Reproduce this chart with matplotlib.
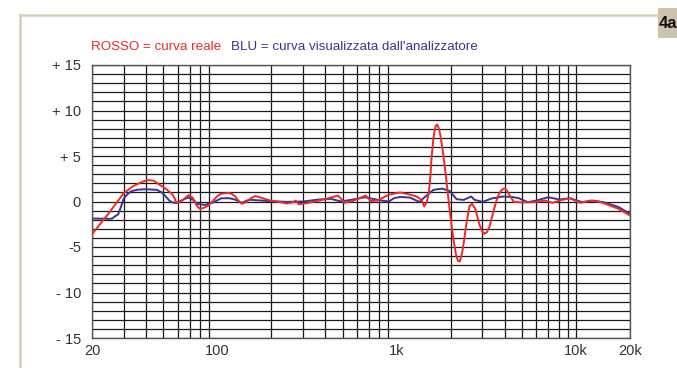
import numpy as np
import matplotlib
matplotlib.use("Agg")
import matplotlib.pyplot as plt
from matplotlib.patches import Rectangle
from matplotlib.lines import Line2D

plt.rcParams['font.family'] = ['Liberation Sans', 'DejaVu Sans']

# measured response (red) - frequency in Hz, level in dB
red_freq = [20, 25, 30, 34, 38, 41, 44, 48, 52, 56, 58, 58.8, 61, 64, 69, 73, 77, 80, 84, 89,
            95, 100, 105, 115, 120, 126, 132, 137, 146, 155, 163, 173, 198, 225, 244, 266, 273,
            284, 316, 358, 406, 470, 490, 511, 567, 671, 716, 779, 905, 1045, 1162, 1291, 1377,
            1423, 1470, 1510, 1540, 1562, 1600, 1630, 1655, 1679, 1705, 1730, 1752, 1800, 1851,
            1910, 1973, 2030, 2086, 2140, 2193, 2250, 2318, 2380, 2438, 2545, 2634, 2747, 2820,
            2890, 2980, 3080, 3180, 3280, 3420, 3575, 3690, 3807, 3920, 4022, 4120, 4226, 4500,
            4930, 5880, 6740, 7390, 8070, 9230, 10550, 12060, 13790, 17220, 20000]
red_db = [-3.6, -1.2, 0.9, 1.7, 2.15, 2.35, 2.3, 1.8, 1.35, 0.8, 0.3, -0.1, -0.05, 0.15, 0.7,
          0.4, -0.5, -0.8, -0.7, -0.45, 0.1, 0.6, 0.85, 0.95, 0.85, 0.55, 0.0, -0.25, -0.05,
          0.4, 0.6, 0.45, 0.1, -0.07, -0.22, -0.07, 0.1, -0.3, -0.18, 0.04, 0.3, 0.65, 0.3,
          -0.15, 0.05, 0.65, 0.05, 0.1, 0.75, 1.0, 0.8, 0.55, 0.18, -0.55, -0.1, 0.9, 2.6, 4.6,
          6.8, 7.9, 8.35, 8.45, 8.2, 7.8, 7.3, 5.8, 4.0, 1.6, -0.84, -2.9, -4.5, -5.8, -6.5,
          -6.6, -5.6, -4.2, -2.65, -0.5, -0.25, -0.84, -1.7, -2.5, -3.2, -3.55, -3.4, -2.85,
          -1.5, -0.1, 0.7, 1.15, 1.4, 1.45, 1.2, 0.8, -0.04, -0.1, -0.07, 0.1, -0.15, 0.1,
          0.36, -0.15, 0.1, -0.07, -0.8, -1.55]

# analyzer reading (blue)
blue_freq = [20, 25.7, 28, 29, 30, 31.5, 33.3, 36, 40, 46, 49, 51.3, 54, 56, 59, 63, 68.8, 73,
             78, 85, 95, 105, 117, 126, 137, 150, 197, 244, 300, 370, 430, 490, 570, 671, 735,
             830, 905, 965, 1045, 1180, 1340, 1460, 1600, 1790, 1970, 2160, 2370, 2600, 2720,
             3020, 3380, 3920, 4400, 4800, 5380, 6000, 7000, 8070, 9230, 10800, 12400, 14200,
             17220, 20000]
blue_db = [-1.87, -1.9, -1.4, -0.6, 0.3, 0.8, 1.15, 1.3, 1.35, 1.28, 1.0, 0.6, 0.1, -0.1,
           -0.18, 0.1, 0.45, 0.2, -0.28, -0.38, -0.1, 0.35, 0.36, 0.2, -0.15, 0.2, 0.04, -0.04,
           0.0, 0.22, 0.29, 0.0, 0.22, 0.47, 0.29, 0.1, 0.0, 0.36, 0.5, 0.44, -0.04, 0.62, 1.27,
           1.42, 1.16, 0.25, 0.18, 0.55, 0.18, -0.04, 0.33, 0.55, 0.5, 0.36, -0.07, 0.1, 0.47,
           0.22, 0.36, -0.07, 0.1, -0.07, -0.6, -1.35]

y_ticks = [15, 10, 5, 0, -5, -10, -15]
y_labels = ['+ 15', '+ 10', '+ 5', '0', '-5', '- 10', '- 15']
x_ticks = [20, 100, 1000, 10000, 20000]
x_labels = ['20', '100', '1k', '10k', '20k']

RED = '#ec2b25'
BLUE = '#3b3296'
TAN = '#d5ccbb'

fig = plt.figure(figsize=(6.77, 3.68), dpi=100)
ax = fig.add_axes([92 / 677, 30 / 368, 538 / 677, 273 / 368])

# log grid: every 1 dB horizontally, 1-2-3..9 per decade vertically
grid_f = [m * d for d in (10, 100, 1000) for m in range(2, 10)] + [10000, 20000]
for f in grid_f:
    if 20 <= f <= 20000:
        ax.axvline(f, color='#1a1a1a', lw=0.9, zorder=1)
for db in range(-15, 16):
    ax.axhline(db, color='#1a1a1a', lw=0.9, zorder=1)

ax.semilogx(red_freq, red_db, color=RED, lw=1.4, zorder=3)
ax.semilogx(blue_freq, blue_db, color=BLUE, lw=1.4, zorder=2)

ax.set_xlim(20, 20000)
ax.set_ylim(-15, 15)
ax.set_xticks(x_ticks)
ax.set_xticklabels(x_labels)
ax.set_xticks([], minor=True)
ax.set_yticks(y_ticks)
ax.set_yticklabels(y_labels)
ax.tick_params(length=0, labelsize=10.5, colors='#333333', pad=8)
ax.tick_params(axis='x', pad=4)
for s in ax.spines.values():
    s.set_color('#555555')
    s.set_linewidth(1)

# legend text above the grid
fig.text(91 / 677, 1 - 47 / 368, 'ROSSO = curva reale', color=RED, fontsize=9.6,
         va='center', ha='left')
fig.text(231 / 677, 1 - 47 / 368, "BLU = curva visualizzata dall'analizzatore", color=BLUE,
         fontsize=9.6, va='center', ha='left')

# page frame and figure tag
fig.add_artist(Line2D([20 / 677, 658 / 677], [1 - 15 / 368, 1 - 15 / 368], color=TAN, lw=1.8))
fig.add_artist(Line2D([20 / 677, 20 / 677], [0, 1 - 15 / 368], color=TAN, lw=1.8))
fig.add_artist(Rectangle((658 / 677, 1 - 38 / 368), 20 / 677, 30 / 368,
                         transform=fig.transFigure, color='#cdc2ad', lw=0))
fig.text(659 / 677, 1 - 24 / 368, '4a', fontsize=12, fontweight='bold', color='#111111',
         va='center', ha='left')

fig.savefig('out.png', dpi=100)
